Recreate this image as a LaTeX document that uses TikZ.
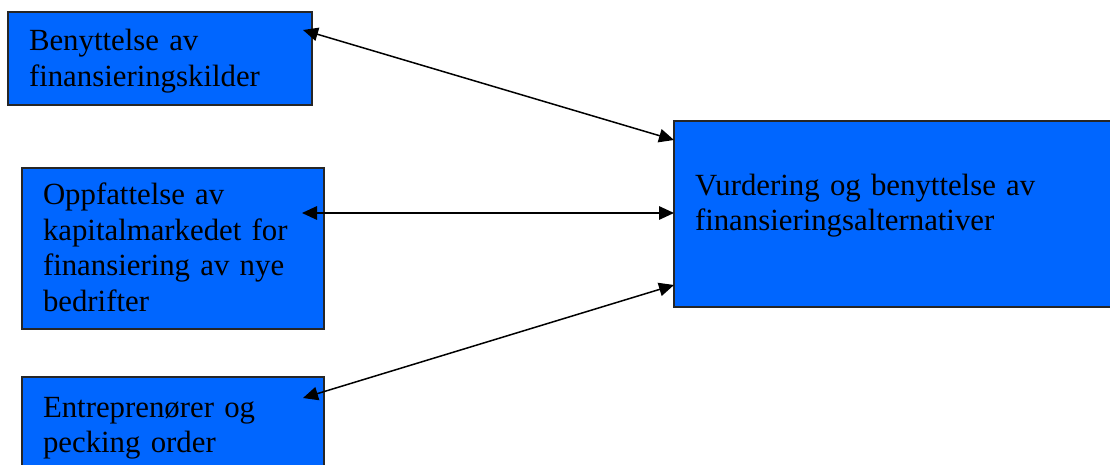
\documentclass[tikz,border=0pt]{standalone}
\usepackage{fontspec}
\setmainfont{Liberation Serif}
\usetikzlibrary{arrows.meta,positioning}

\begin{document}
\begin{tikzpicture}[x=1pt,y=1pt,
    box/.style={draw=black!85, line width=1.2pt, fill=boxblue, rectangle, anchor=north west,
        align=left, inner xsep=21pt, inner ysep=0pt, outer sep=0pt,
        font=\fontsize{30.8}{35.5}\selectfont},
    link/.style={{Triangle[length=15pt,width=13.5pt]}-{Triangle[length=15pt,width=13.5pt]}, line width=1.5pt}]
          \definecolor{boxblue}{HTML}{0066FF}
          \useasboundingbox (0,0) rectangle (1110,464);
          \node[box, text width=262pt, text height=39pt, text depth=54pt] at (8,452) (kilder) {Benyttelse av\\finansieringskilder};
          \node[box, text width=260pt, text height=37pt, text depth=124pt] at (22,296) (marked) {Oppfattelse av\\kapitalmarkedet for\\finansiering av nye\\bedrifter};
          \node[box, text width=260pt, text height=40pt, text depth=60pt] at (22,87) (pecking) {Entrepren\o rer og\\pecking order};
          \node[box, text width=400pt, text height=74pt, text depth=112pt] at (674,343) (vurd) {Vurdering og benyttelse av\\finansieringsalternativer};
          \draw[link] ([shift={(-9,-18)}]kilder.north east) -- ([yshift=74pt]vurd.west);
          \draw[link] ([shift={(-22,-45)}]marked.north east) -- ([yshift=1pt]vurd.west);
          \draw[link] ([shift={(-21,-21)}]pecking.north east) -- ([yshift=-71pt]vurd.west);
        \end{tikzpicture}
\end{document}
